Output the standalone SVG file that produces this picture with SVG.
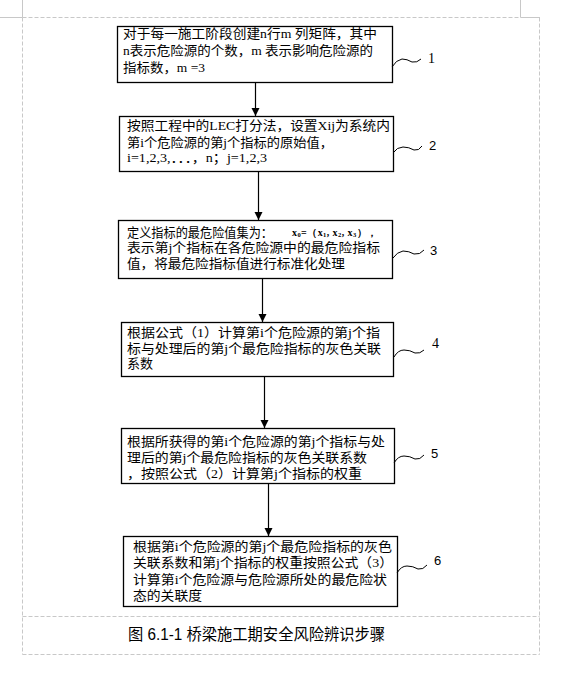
<svg xmlns="http://www.w3.org/2000/svg" width="573" height="674" viewBox="0 0 573 674">
<style>
.frame{stroke:#c8c8c8;stroke-width:1;fill:none}
.dash{stroke-dasharray:4,2}
.box{fill:#fff;stroke:#000;stroke-width:1.3}
.t{font-family:"Liberation Serif","Noto Sans CJK SC",serif;font-size:13px;fill:#000}
.lab{font-family:"Liberation Sans",sans-serif;font-size:13px;fill:#000}
.labs{font-family:"Liberation Serif",serif;font-size:14px;fill:#000}
.sq{fill:none;stroke:#000;stroke-width:1}
.con{stroke:#000;stroke-width:1.2;fill:none}
.cap{font-family:"Liberation Sans","Noto Sans CJK SC",sans-serif;font-size:16px;fill:#000}
</style>
<defs>
<marker id="ah" viewBox="0 0 8 12" refX="8" refY="6" markerWidth="8" markerHeight="12" markerUnits="userSpaceOnUse" orient="auto">
<path d="M0,2 L8,6 L0,10 Z" fill="#000"/>
</marker>
</defs>
<rect width="573" height="674" fill="#fff"/>
<g id="page-frame">
<path class="frame" d="M0,17.5 H22.5 M22.5,0 V17.5 M520.5,0 V17.5 M520.5,17.5 H540"/>
<path class="frame dash" d="M22.5,17.5 H520.5 M22.5,17.5 V654.5 M539.5,17.5 V654.5 M22.5,616.5 H539.5 M22.5,654.5 H539.5"/>
</g>
<g id="connectors">
<line class="con" x1="255.5" y1="82" x2="255.5" y2="116" marker-end="url(#ah)"/>
<line class="con" x1="258.5" y1="171" x2="258.5" y2="220" marker-end="url(#ah)"/>
<line class="con" x1="262.5" y1="278" x2="262.5" y2="322" marker-end="url(#ah)"/>
<line class="con" x1="264.5" y1="376" x2="264.5" y2="428" marker-end="url(#ah)"/>
<line class="con" x1="268.5" y1="483" x2="268.5" y2="536" marker-end="url(#ah)"/>
</g>
<g id="node1">
<rect class="box" x="117.5" y="26.5" width="275" height="56"/>
<text class="t" x="123" y="38" textLength="254" lengthAdjust="spacingAndGlyphs">对于每一施工阶段创建n行m 列矩阵，其中</text>
<text class="t" x="123" y="55" textLength="250" lengthAdjust="spacingAndGlyphs">n表示危险源的个数，m 表示影响危险源的</text>
<text class="t" x="123" y="72" textLength="82" lengthAdjust="spacingAndGlyphs">指标数，m =3</text>
<path class="sq" d="M392,67 Q396,60 402,59 Q407,59 412,62 Q417,63 421,59"/>
<text class="labs" x="428" y="63">1</text>
</g>
<g id="node2">
<rect class="box" x="119.5" y="116.5" width="274" height="55"/>
<text class="t" x="127" y="130" textLength="263" lengthAdjust="spacingAndGlyphs">按照工程中的LEC打分法，设置Xij为系统内</text>
<text class="t" x="127" y="147" textLength="206" lengthAdjust="spacingAndGlyphs">第i个危险源的第j个指标的原始值，</text>
<text class="t" x="127" y="162" textLength="140" lengthAdjust="spacingAndGlyphs">i=1,2,3,．．．，n；j=1,2,3</text>
<path class="sq" d="M393,153 Q397,147 403,147 Q409,147 414,150 Q419,151 422,146"/>
<text class="lab" x="429" y="150">2</text>
</g>
<g id="node3">
<rect class="box" x="118.5" y="220.5" width="274" height="58"/>
<text class="t" x="127" y="237" textLength="146" lengthAdjust="spacingAndGlyphs">定义指标的最危险值集为：</text>
<text x="292" y="236" font-family="'Liberation Serif',serif" font-size="10" font-weight="bold" textLength="85" lengthAdjust="spacing">x<tspan font-size="6.5" dy="1">0</tspan><tspan dy="-1">=（x</tspan><tspan font-size="6.5" dy="1">1</tspan><tspan dy="-1">, x</tspan><tspan font-size="6.5" dy="1">2</tspan><tspan dy="-1">, x</tspan><tspan font-size="6.5" dy="1">3</tspan><tspan dy="-1">），</tspan></text>
<text class="t" x="127" y="252" textLength="253" lengthAdjust="spacingAndGlyphs">表示第j个指标在各危险源中的最危险指标</text>
<text class="t" x="127" y="268" textLength="218" lengthAdjust="spacingAndGlyphs">值，将最危险指标值进行标准化处理</text>
<path class="sq" d="M393,258 Q397,252 403,251 Q409,251 414,254 Q420,255 424,250"/>
<text class="lab" x="430" y="255">3</text>
</g>
<g id="node4">
<rect class="box" x="121.5" y="322.5" width="272" height="54"/>
<text class="t" x="127" y="337" textLength="253" lengthAdjust="spacingAndGlyphs">根据公式（1）计算第i个危险源的第j个指</text>
<text class="t" x="127" y="353" textLength="254" lengthAdjust="spacingAndGlyphs">标与处理后的第j个最危险指标的灰色关联</text>
<text class="t" x="127" y="368" textLength="26" lengthAdjust="spacingAndGlyphs">系数</text>
<path class="sq" d="M394,357 Q398,350 404,350 Q410,350 415,353 Q420,354 424,350"/>
<text class="labs" x="432" y="348">4</text>
</g>
<g id="node5">
<rect class="box" x="121.5" y="428.5" width="273" height="55"/>
<text class="t" x="127" y="446" textLength="258" lengthAdjust="spacingAndGlyphs">根据所获得的第i个危险源的第j个指标与处</text>
<text class="t" x="127" y="462" textLength="240" lengthAdjust="spacingAndGlyphs">理后的第j个最危险指标的灰色关联系数</text>
<text class="t" x="127" y="478" textLength="235" lengthAdjust="spacingAndGlyphs">，按照公式（2）计算第j个指标的权重</text>
<path class="sq" d="M394,463 Q398,456 404,456 Q410,456 415,459 Q420,460 424,455"/>
<text class="lab" x="431" y="458">5</text>
</g>
<g id="node6">
<rect class="box" x="123.5" y="536.5" width="274" height="70"/>
<text class="t" x="133" y="551" textLength="259" lengthAdjust="spacingAndGlyphs">根据第i个危险源的第j个最危险指标的灰色</text>
<text class="t" x="133" y="567" textLength="260" lengthAdjust="spacingAndGlyphs">关联系数和第j个指标的权重按照公式（3）</text>
<text class="t" x="133" y="584" textLength="254" lengthAdjust="spacingAndGlyphs">计算第i个危险源与危险源所处的最危险状</text>
<text class="t" x="133" y="600" textLength="69" lengthAdjust="spacingAndGlyphs">态的关联度</text>
<path class="sq" d="M397,573 Q401,566 407,566 Q413,566 418,569 Q423,570 427,565"/>
<text class="lab" x="434" y="565">6</text>
</g>
<g id="caption">
<text class="cap" x="128" y="640" textLength="257" lengthAdjust="spacingAndGlyphs">图 6.1-1 桥梁施工期安全风险辨识步骤</text>
</g>
</svg>
